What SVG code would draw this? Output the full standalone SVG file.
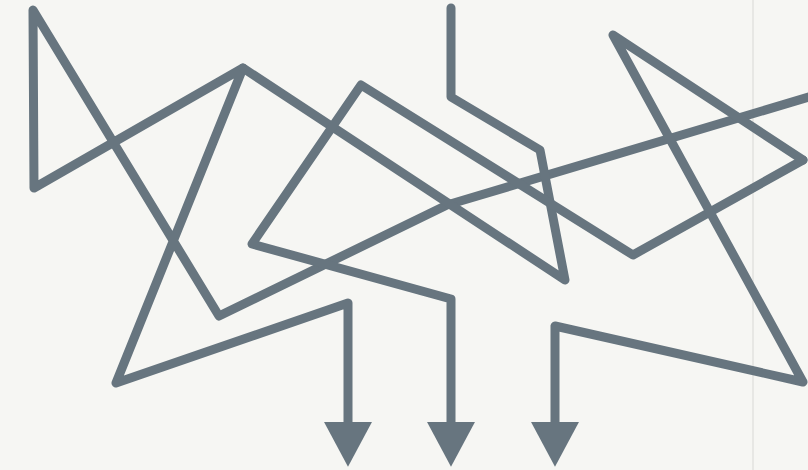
<svg xmlns="http://www.w3.org/2000/svg" width="808" height="470" viewBox="0 0 808 470">
  <style>
    .ln { fill: none; stroke: #67757f; stroke-width: 9; stroke-linejoin: round; stroke-linecap: round; }
    .ln-arrow { marker-end: url(#head); }
  </style>
  <defs>
    <marker id="head" markerUnits="userSpaceOnUse" markerWidth="50" markerHeight="50" refX="0" refY="24" orient="auto" viewBox="0 0 44 48">
      <path d="M0,1 L43,24 L0,47 Z" fill="#67757f"/>
    </marker>
  </defs>
  <rect x="0" y="0" width="808" height="470" fill="#f6f6f3"/>
  <line x1="753" y1="0" x2="753" y2="470" stroke="#e2e2df" stroke-width="1.5"/>
  <g id="connectors">
    <path id="line-1" class="ln ln-arrow" d="M812,96 L447,205 L219,316 L33,10 L34,188 L243,68 L116,383 L348,303 L348,422"/>
    <path id="line-2" class="ln" d="M451,8 L451,97 L540,150 L565,280 L243,68"/>
    <path id="line-3" class="ln ln-arrow" d="M803,160 L633,255 L361,85 L252,244 L451,299 L451,422"/>
    <path id="line-4" class="ln ln-arrow" d="M803,160 L613,35 L803,382 L555,326 L555,422"/>
  </g>
</svg>
